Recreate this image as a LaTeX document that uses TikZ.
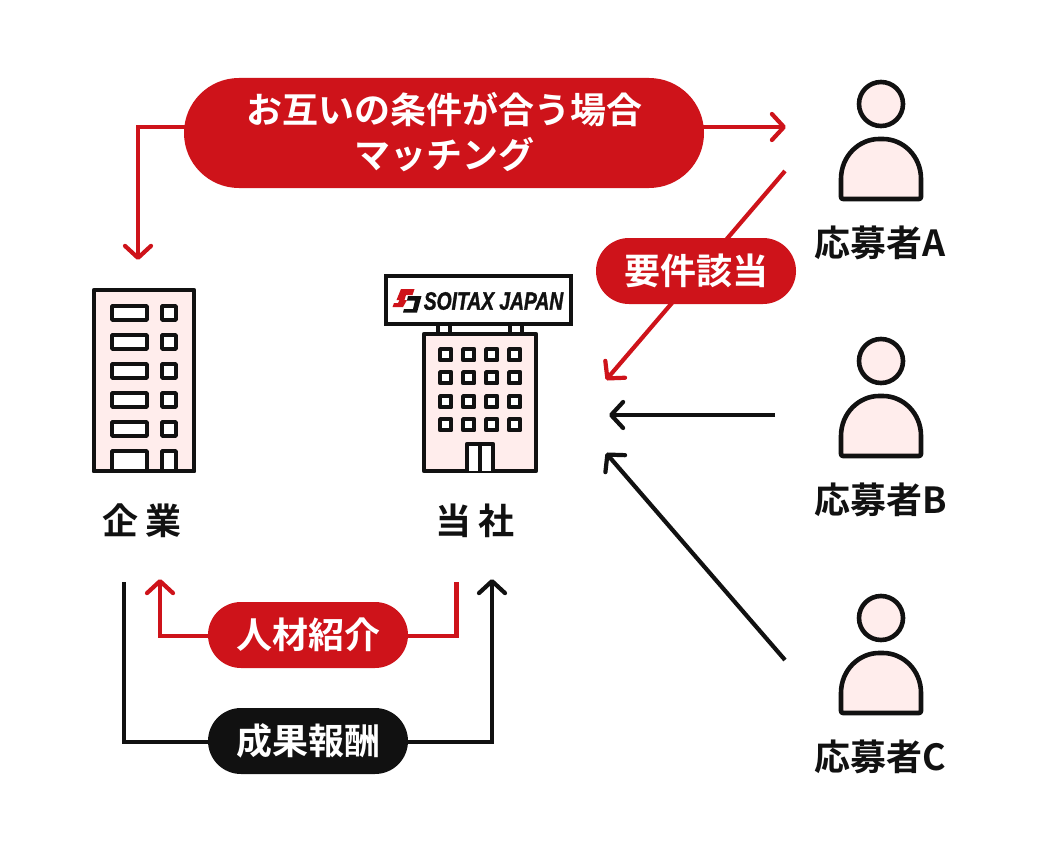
\documentclass[tikz,border=0pt]{standalone}
\usepackage{fontspec}
\usepackage{graphicx}
\newfontfamily\jp{Noto Sans CJK JP Bold}
\newfontfamily\logofont[FakeBold=1.6]{Liberation Sans Bold Italic}
\usetikzlibrary{arrows.meta}
\definecolor{cred}{HTML}{CE131A}
\definecolor{cblack}{HTML}{111111}
\definecolor{cpink}{HTML}{FFEDEC}
\tikzset{
  x=1pt,y=-1pt,
  pill/.style={rounded corners=33pt,inner sep=0pt,text=white,font=\jp\fontsize{36}{42}\selectfont,align=center},
  redpill/.style={pill,fill=cred},
  blackpill/.style={pill,fill=cblack},
  lbl/.style={text=cblack,font=\jp\fontsize{36}{42}\selectfont,inner sep=0pt},
  arr/.style={line width=4.2pt,-{Straight Barb[round,length=12pt,width=26pt,line width=4.2pt]}},
  redarr/.style={arr,draw=cred},
  blackarr/.style={arr,draw=cblack},
  bld/.style={draw=cblack,line width=4.2pt,fill=cpink,line join=round},
  win/.style={draw=cblack,line width=4.5pt,fill=white,line join=round},
  wall/.style={draw=cblack,line width=4.6pt,fill=cpink,line join=round},
}
\newcommand{\person}[2]{%
  \draw[wall] (#1,#2+23) circle (22);
  \draw[wall,rounded corners=2pt] (#1-40,#2+118)
     -- (#1-40,#2+100) .. controls (#1-40,#2+75) and (#1-22,#2+58) .. (#1,#2+58)
     .. controls (#1+22,#2+58) and (#1+40,#2+75) .. (#1+40,#2+100) -- (#1+40,#2+118) -- cycle;
}
\begin{document}
\begin{tikzpicture}
\useasboundingbox (0,0) rectangle (1040,840);
\fill[white] (0,0) rectangle (1040,840);

% free ends
\coordinate (t1) at (138,260);
\coordinate (a1) at (786,127);
\coordinate (m1) at (300,127);
\coordinate (s2) at (785,171);
\coordinate (t2) at (606,380);
\coordinate (s3) at (775,415);
\coordinate (t3) at (609,415);
\coordinate (s4) at (785,660);
\coordinate (t4) at (606,453);
\coordinate (s5) at (456.5,582);
\coordinate (t5) at (160,579);
\coordinate (s6) at (124,582);
\coordinate (t6) at (492,579);
\coordinate (y5) at (300,636);
\coordinate (y6) at (300,742);

% connectors
\draw[redarr] (m1) -| (t1);
\draw[redarr] (m1) -- (a1);
\draw[redarr] (s2) -- (t2);
\draw[blackarr] (s3) -- (t3);
\draw[blackarr] (s4) -- (t4);
\draw[line width=4.2pt,cred] (s5) |- (y5);
\draw[redarr] (y5) -| (t5);
\draw[line width=4.2pt,cblack] (s6) |- (y6);
\draw[blackarr] (y6) -| (t6);

% pills
\node[redpill,minimum width=520pt,minimum height=110pt,rounded corners=55pt] (match) at (444,133) {};
\node[text=white,font=\jp\fontsize{36}{45}\selectfont,align=center,inner sep=0pt] (matchtxt) at (444,132) {お互いの条件が合う場合\\マッチング};
\node[redpill,minimum width=200pt,minimum height=66pt] (req) at (696,271) {要件該当};
\node[redpill,minimum width=200pt,minimum height=66pt] (intro) at (308,635) {人材紹介};
\node[blackpill,minimum width=200pt,minimum height=66pt] (fee) at (308,741) {成果報酬};

% left building
\draw[bld] (94,290) rectangle (194,471);
\foreach \y in {304,333,362,391,420} {
  \draw[win] (112.2,\y+2.2) rectangle (146.8,\y+15.8);
  \draw[win] (162.2,\y+2.2) rectangle (175.8,\y+15.8);
}
\draw[win] (112.2,471) -- (112.2,451.2) -- (146.8,451.2) -- (146.8,471);
\draw[win] (162.2,471) -- (162.2,451.2) -- (175.8,451.2) -- (175.8,471);
\draw[cblack,line width=4.2pt,line cap=round] (94,471) -- (194,471);

% right building
\draw[win,line width=4pt] (438,322) rectangle (450,335);
\draw[win,line width=4pt] (510,322) rectangle (522,335);
\draw[bld] (424,334) rectangle (536,471);
\foreach \x in {440.2,463.2,486.2,509.2} \foreach \y in {349.2,372.2,396.2,419.2} {
  \draw[win] (\x,\y) rectangle (\x+11,\y+11);
}
\draw[draw=cblack,line width=4.2pt,fill=white,line join=round] (467,471) -- (467,444) -- (493,444) -- (493,471);
\draw[cblack,line width=3.5pt] (480,444) -- (480,471);

% sign
\draw[draw=cblack,line width=4.2pt,fill=white] (386,276) rectangle (571,324);
\fill[cred] (401,289) -- (414.5,289) -- (412.5,295) -- (406,295) -- (404.5,300) -- (407,300) -- (403,307) -- (392.5,307) -- (394,303) -- (398,303) -- (399.5,300) -- (396.5,300) -- cycle;
\fill[cblack] (408,296) -- (421.5,296) -- (417,312.5) -- (403,312.5) -- (404,309) -- (413,309) -- (415,300.5) -- (407,300.5) -- cycle;
\node[inner sep=0pt,text=cblack] (logotxt) at (493.5,301) {\scalebox{0.77}[1]{\logofont\fontsize{25}{28}\selectfont SOITAX JAPAN}};

% people
\person{881}{81}
\person{881}{338}
\person{881}{595}

% labels
\node[lbl] (ca) at (880,243) {応募者A};
\node[lbl] (cb) at (881,500) {応募者B};
\node[lbl] (cc) at (880,757) {応募者C};
\node[lbl] (corp) at (142,521) {企\hspace{8pt}業};
\node[lbl] (self) at (475,521) {当\hspace{8pt}社};
\end{tikzpicture}
\end{document}
